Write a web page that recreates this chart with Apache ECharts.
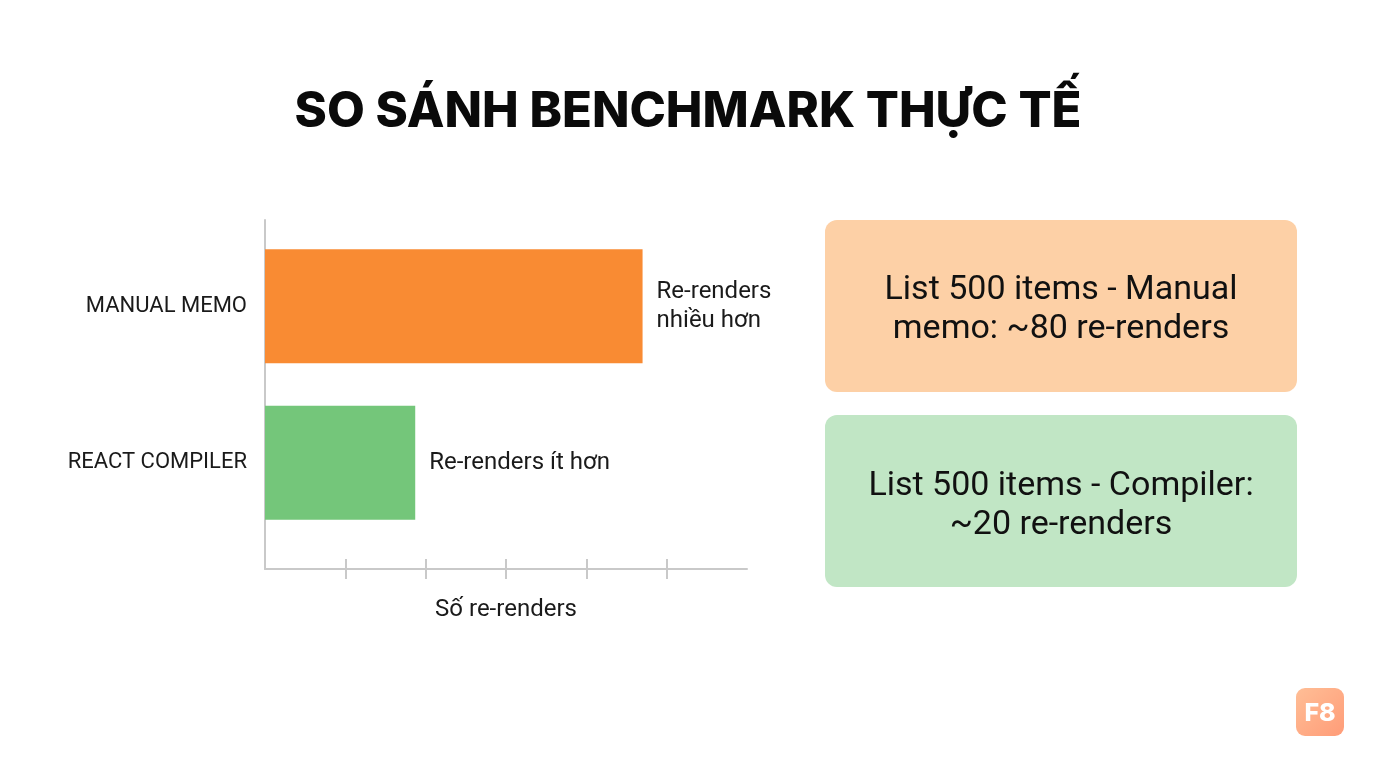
<!DOCTYPE html>
<html>
<head>
<meta charset="utf-8">
<script src="https://cdn.jsdelivr.net/npm/echarts@6/dist/echarts.min.js"></script>
<style>
html,body{margin:0;padding:0;background:#fff;}
#chart{width:1376px;height:768px;}
</style>
</head>
<body>
<div id="chart"></div>
<script>
const titleText = 'SO SÁNH BENCHMARK THỰC TẾ';
const categories = ['MANUAL MEMO', 'REACT COMPILER'];
const values = [4.7, 1.87];
const barLabels = ['Re-renders\nnhiều hơn', 'Re-renders ít hơn'];
const barColors = ['#F98B33', '#74C67A'];
const axisName = 'Số re-renders';
const tickValues = [1, 2, 3, 4, 5];
const axisMax = 6;
const noteTexts = ['List 500 items - Manual\nmemo: ~80 re-renders', 'List 500 items - Compiler:\n~20 re-renders'];
const noteColors = ['#FDD0A6', '#C1E6C5'];
const logoText = 'F8';

const chart = echarts.init(document.getElementById('chart'));
const FONT = 'Roboto, "Noto Sans", sans-serif';
const axisColor = '#C9C9C9';

const option = {
  backgroundColor: '#ffffff',
  animation: false,
  title: {
    text: titleText,
    left: 'center',
    top: 83,
    textStyle: { fontFamily: 'Inter, "Noto Sans", sans-serif', fontWeight: 800, fontSize: 49, color: '#0a0a0a' }
  },
  grid: [
    { left: 265, top: 220, width: 482, height: 349 },
    { left: 265, top: 228, width: 482, height: 313 }
  ],
  xAxis: [
    {
      gridIndex: 0, type: 'value', min: 0, max: axisMax, interval: 1,
      axisLine: { show: true, lineStyle: { color: axisColor, width: 2 } },
      axisTick: { show: true, customValues: tickValues, length: 10, lineStyle: { color: axisColor, width: 2 } },
      axisLabel: { show: false }, splitLine: { show: false },
      name: axisName, nameLocation: 'middle', nameGap: 29,
      nameTextStyle: { fontFamily: FONT, fontSize: 24, color: '#1a1a1a' }
    },
    {
      gridIndex: 0, type: 'value', min: 0, max: axisMax, interval: 1, position: 'bottom',
      axisLine: { show: false },
      axisTick: { show: true, inside: true, customValues: tickValues, length: 10, lineStyle: { color: axisColor, width: 2 } },
      axisLabel: { show: false }, splitLine: { show: false }
    },
    {
      gridIndex: 1, type: 'value', min: 0, max: axisMax, show: false, splitLine: { show: false }
    }
  ],
  yAxis: [
    {
      gridIndex: 0, type: 'value',
      axisLine: { show: true, lineStyle: { color: axisColor, width: 2 } },
      axisTick: { show: false }, axisLabel: { show: false }, splitLine: { show: false }
    },
    {
      gridIndex: 1, type: 'category', inverse: true, data: categories,
      axisLine: { show: false }, axisTick: { show: false },
      axisLabel: { margin: 18, fontFamily: FONT, fontSize: 22, color: '#1a1a1a', padding: [8, 0, 0, 0] }
    }
  ],
  series: [
    {
      type: 'bar', xAxisIndex: 2, yAxisIndex: 1, barWidth: 114,
      data: values.map((v, i) => ({ value: v, itemStyle: { color: barColors[i] } })),
      label: {
        show: true, position: 'right', distance: 14,
        formatter: p => barLabels[p.dataIndex],
        fontFamily: FONT, fontSize: 24, lineHeight: 29, color: '#1a1a1a', align: 'left',
        padding: [6, 0, 0, 0]
      }
    }
  ],
  graphic: [
    ...noteTexts.map((t, i) => ({
      type: 'group', left: 825, top: i === 0 ? 220 : 415,
      children: [
        { type: 'rect', shape: { x: 0, y: 0, width: 472, height: 172, r: 12 }, style: { fill: noteColors[i] } },
        { type: 'text', x: 236, y: i === 0 ? 90 : 91, style: { text: t, fontFamily: FONT, fontSize: 34, lineHeight: 39, fill: '#111', align: 'center', verticalAlign: 'middle' } }
      ]
    })),
    {
      type: 'group', left: 1296, top: 688,
      children: [
        { type: 'rect', shape: { x: 0, y: 0, width: 48, height: 48, r: 9 },
          style: { fill: new echarts.graphic.LinearGradient(0, 0, 1, 1, [{ offset: 0, color: '#FFBE96' }, { offset: 1, color: '#FF9C78' }]) } },
        { type: 'text', x: 24, y: 25, style: { text: logoText, fontFamily: 'Inter, sans-serif', fontWeight: 800, fontSize: 25, fill: '#fff', align: 'center', verticalAlign: 'middle' } }
      ]
    }
  ]
};
chart.setOption(option);
</script>
</body>
</html>
